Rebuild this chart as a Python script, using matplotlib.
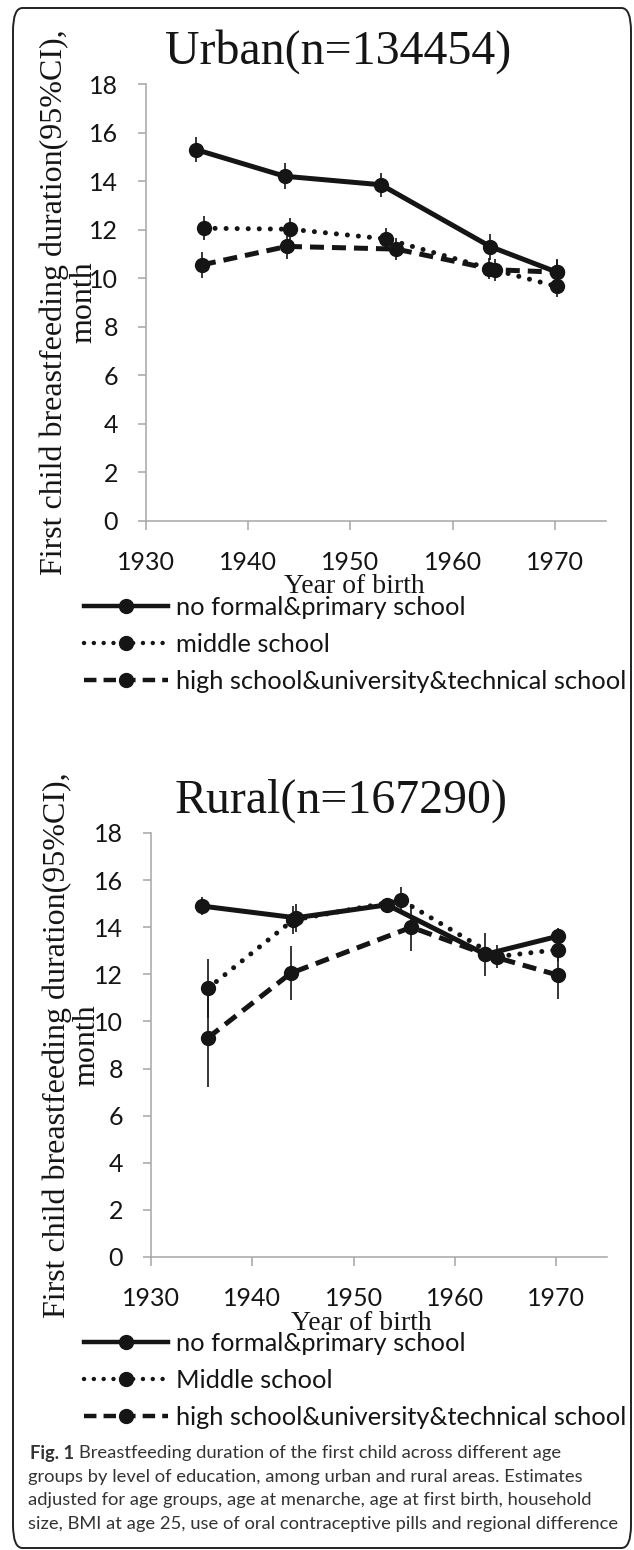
import matplotlib
matplotlib.use("Agg")
import matplotlib.pyplot as plt
from matplotlib.lines import Line2D
from matplotlib.patches import FancyBboxPatch

W, H = 634, 1550

# ---- data ----
groups = ["no formal&primary school", "middle school", "high school&university&technical school"]
groups_rural = ["no formal&primary school", "Middle school", "high school&university&technical school"]

# urban
urban_x_nf = [1934.9, 1943.6, 1953.0, 1963.7, 1970.2]
urban_y_nf = [15.3, 14.2, 13.85, 11.3, 10.25]
urban_e_nf = [0.53, 0.53, 0.5, 0.53, 0.55]
urban_x_ms = [1935.7, 1944.1, 1953.5, 1963.6, 1970.2]
urban_y_ms = [12.06, 12.02, 11.62, 10.4, 9.66]
urban_e_ms = [0.5, 0.45, 0.45, 0.45, 0.45]
urban_x_hs = [1935.5, 1943.8, 1954.5, 1964.1, 1970.2]
urban_y_hs = [10.55, 11.31, 11.2, 10.35, 10.25]
urban_e_hs = [0.55, 0.5, 0.45, 0.45, 0.5]

# rural
rural_x_nf = [1935.0, 1944.3, 1953.3, 1963.0, 1970.2]
rural_y_nf = [14.9, 14.4, 14.95, 12.85, 13.62]
rural_e_nf = [0.4, 0.6, 0.3, 0.3, 0.35]
rural_x_ms = [1935.6, 1944.0, 1954.7, 1964.1, 1970.2]
rural_y_ms = [11.4, 14.3, 15.15, 12.75, 13.05]
rural_e_ms = [1.25, 0.6, 0.55, 0.5, 0.5]
rural_x_hs = [1935.6, 1943.8, 1955.7, 1963.0, 1970.2]
rural_y_hs = [9.3, 12.05, 14.0, 12.85, 11.96]
rural_e_hs = [2.1, 1.15, 1.0, 0.9, 1.0]

yticks = [0, 2, 4, 6, 8, 10, 12, 14, 16, 18]
xticks = [1930, 1940, 1950, 1960, 1970]

caption = ["groups by level of education, among urban and rural areas. Estimates",
           "adjusted for age groups, age at menarche, age at first birth, household",
           "size, BMI at age 25, use of oral contraceptive pills and regional difference"]

INK = "#151515"
AXC = "#a6a6a6"
SANS = "Lato"
SERIF = "Liberation Serif"

styles = [dict(ls="-"),
          dict(ls=(0, (0.01, 2.2)), dash_capstyle="round"),
          dict(ls=(0, (2.8, 1.6)), dash_capstyle="butt")]


def fx(px):
    return px / W


def fy(py):
    return 1 - py / H


def make_axes(fig, left, right, top, bottom):
    ax = fig.add_axes([fx(left), fy(bottom), fx(right) - fx(left), (bottom - top) / H])
    ax.set_xlim(1930, 1975)
    ax.set_ylim(0, 18)
    ax.set_xticks(xticks)
    ax.set_yticks(yticks)
    for s in ["top", "right"]:
        ax.spines[s].set_visible(False)
    for s in ["left", "bottom"]:
        ax.spines[s].set_color(AXC)
        ax.spines[s].set_linewidth(1.1)
    ax.tick_params(axis="y", length=6, width=1.1, color=AXC, pad=14,
                   labelsize=18, labelcolor=INK)
    ax.tick_params(axis="x", length=6.5, width=1.1, color=AXC, pad=15,
                   labelsize=18, labelcolor=INK)
    for lab in ax.get_xticklabels() + ax.get_yticklabels():
        lab.set_family(SANS)
    ax.patch.set_alpha(0)
    return ax


def draw_series(ax, xs, ys, es):
    for (x, y, e), st in zip(zip(xs, ys, es), styles):
        ax.errorbar(x, y, yerr=e, fmt="none", ecolor=INK, elinewidth=1.2, capsize=0, zorder=2)
        ln, = ax.plot(x, y, color=INK, lw=3.6, marker="o", ms=10, mfc=INK, mec=INK,
                      zorder=3, ls=st["ls"])
        if "dash_capstyle" in st:
            ln.set_dash_capstyle(st["dash_capstyle"])


def add_legend(fig, labels, top):
    handles = []
    for st in styles:
        h = Line2D([], [], color=INK, lw=3.2, marker="o", ms=10, ls=st["ls"])
        if "dash_capstyle" in st:
            h.set_dash_capstyle(st["dash_capstyle"])
        handles.append(h)
    leg = fig.legend(handles, labels, loc="upper left", bbox_to_anchor=(fx(84), fy(top)),
                     frameon=False, handlelength=3.3, handletextpad=0.3,
                     labelspacing=0.55, borderpad=0, borderaxespad=0, numpoints=1,
                     prop={"family": SANS, "size": 18.3})
    for t in leg.get_texts():
        t.set_color(INK)


fig = plt.figure(figsize=(W / 100, H / 100), dpi=100)

# outer rounded frame
frame = FancyBboxPatch((fx(13), fy(1548)), fx(631) - fx(13), (1548 - 8) / H,
                       boxstyle="round,pad=0,rounding_size=0.015",
                       transform=fig.transFigure, fill=False, ec="#222222", lw=1.4)
fig.patches.append(frame)

# ---- Urban ----
ax1 = make_axes(fig, 145.7, 606, 84, 521)
draw_series(ax1, [urban_x_nf, urban_x_ms, urban_x_hs],
            [urban_y_nf, urban_y_ms, urban_y_hs],
            [urban_e_nf, urban_e_ms, urban_e_hs])
fig.text(fx(338), fy(64), "Urban(n=134454)", family=SERIF, fontsize=34.5,
         ha="center", va="baseline", color=INK)
fig.text(fx(69), fy(302), "First child breastfeeding duration(95%CI),\nmonth",
         family=SERIF, fontsize=23, rotation=90, ha="center", va="center",
         multialignment="center", linespacing=1.0, color=INK)
fig.text(fx(354), fy(587), "Year of birth", family=SERIF, fontsize=20,
         ha="center", va="center", color=INK)
add_legend(fig, groups, 596)

# ---- Rural ----
ax2 = make_axes(fig, 151, 607, 833, 1257)
draw_series(ax2, [rural_x_nf, rural_x_ms, rural_x_hs],
            [rural_y_nf, rural_y_ms, rural_y_hs],
            [rural_e_nf, rural_e_ms, rural_e_hs])
fig.text(fx(341), fy(813), "Rural(n=167290)", family=SERIF, fontsize=34.5,
         ha="center", va="baseline", color=INK)
fig.text(fx(72), fy(1045), "First child breastfeeding duration(95%CI),\nmonth",
         family=SERIF, fontsize=23, rotation=90, ha="center", va="center",
         multialignment="center", linespacing=1.0, color=INK)
fig.text(fx(361), fy(1323), "Year of birth", family=SERIF, fontsize=20,
         ha="center", va="center", color=INK)
add_legend(fig, groups_rural, 1332)

# ---- caption ----
capc = "#333333"
t0 = fig.text(fx(30), fy(1453), "Fig. 1", family=SANS, fontsize=13.2, weight="bold",
              ha="left", va="center", color=capc)
fig.canvas.draw()
bb = t0.get_window_extent()
fig.text(bb.x1 / W + fx(5), fy(1453), "Breastfeeding duration of the first child across different age",
         family=SANS, fontsize=13.2, ha="left", va="center", color=capc)
for i, line in enumerate(caption):
    fig.text(fx(28), fy(1477 + 23.5 * i), line, family=SANS, fontsize=13.2,
             ha="left", va="center", color=capc)

fig.savefig("out.png", dpi=100)
